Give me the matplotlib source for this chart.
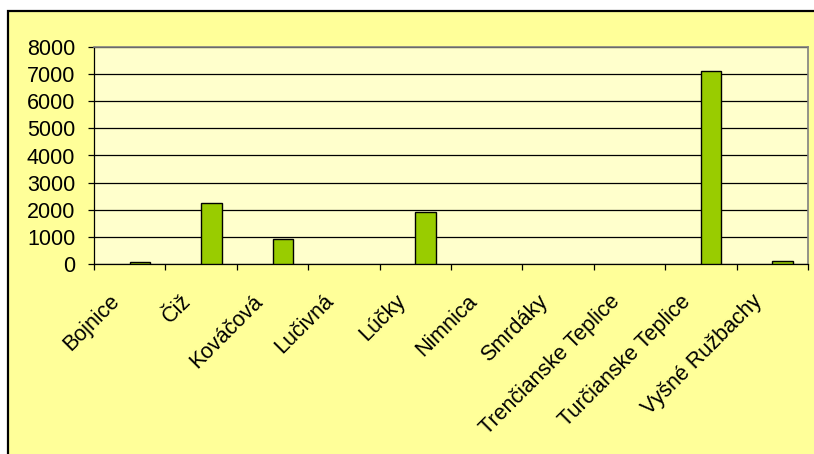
import matplotlib
matplotlib.use("Agg")
import matplotlib.pyplot as plt
import matplotlib.transforms as mtransforms
from matplotlib.patches import Rectangle
import numpy as np

plt.rcParams['font.family'] = ['Liberation Sans', 'DejaVu Sans']

categories = ["Bojnice", "Čiž", "Kováčová", "Lučivná", "Lúčky", "Nimnica",
              "Smrdáky", "Trenčianske Teplice", "Turčianske Teplice", "Vyšné Ružbachy"]
values = [70, 2240, 930, 0, 1930, 0, 0, 0, 7110, 120]
y_ticks = [0, 1000, 2000, 3000, 4000, 5000, 6000, 7000, 8000]

W, H, DPI = 814, 454, 100
FS = 15.5
fig = plt.figure(figsize=(W / DPI, H / DPI), dpi=DPI, facecolor="white")

# chart area with black frame (left/top edges visible)
frame = Rectangle((8 / W, -0.2), 1.3, 1 - 11 / H + 0.2, transform=fig.transFigure,
                  facecolor="#FFFF99", edgecolor="black", linewidth=1.6, zorder=-10)
fig.add_artist(frame)

left, right, top, bottom = 94, 808, 46.7, 264.3
ax = fig.add_axes([left / W, 1 - bottom / H, (right - left) / W, (bottom - top) / H])
ax.set_facecolor("#FFFFCC")

x = np.arange(len(categories))
edges = ["black" if v > 0 else "none" for v in values]
ax.bar(x, values, width=0.286, align="edge", color="#99CC00",
       edgecolor=edges, linewidth=1.0, zorder=3)

ax.set_xlim(-0.5, len(categories) - 0.5)
ax.set_ylim(0, 8000)
ax.set_yticks(y_ticks)
ax.yaxis.grid(True, color="black", linewidth=0.9, zorder=1)
ax.set_axisbelow(True)

ax.set_xticks(np.arange(-0.5, len(categories)))
ax.set_xticklabels([])
ax.tick_params(axis="x", direction="out", length=4.5, width=0.9, color="black")
ax.tick_params(axis="y", direction="out", length=4.5, width=0.9, color="black",
               labelsize=FS, pad=9)

for side in ("top", "right"):
    ax.spines[side].set_color("#808080")
    ax.spines[side].set_linewidth(1.2)
for side in ("left", "bottom"):
    ax.spines[side].set_color("black")
    ax.spines[side].set_linewidth(0.9)

base = mtransforms.blended_transform_factory(ax.transData, ax.transAxes)
for i, name in enumerate(categories):
    off = mtransforms.ScaledTranslation(-13 / DPI, -34 / DPI, fig.dpi_scale_trans)
    ax.text(i, 0, name, transform=base + off, rotation=45, rotation_mode="anchor",
            ha="right", va="center", fontsize=FS, color="black")

fig.savefig("out.png", dpi=DPI, facecolor=fig.get_facecolor())
